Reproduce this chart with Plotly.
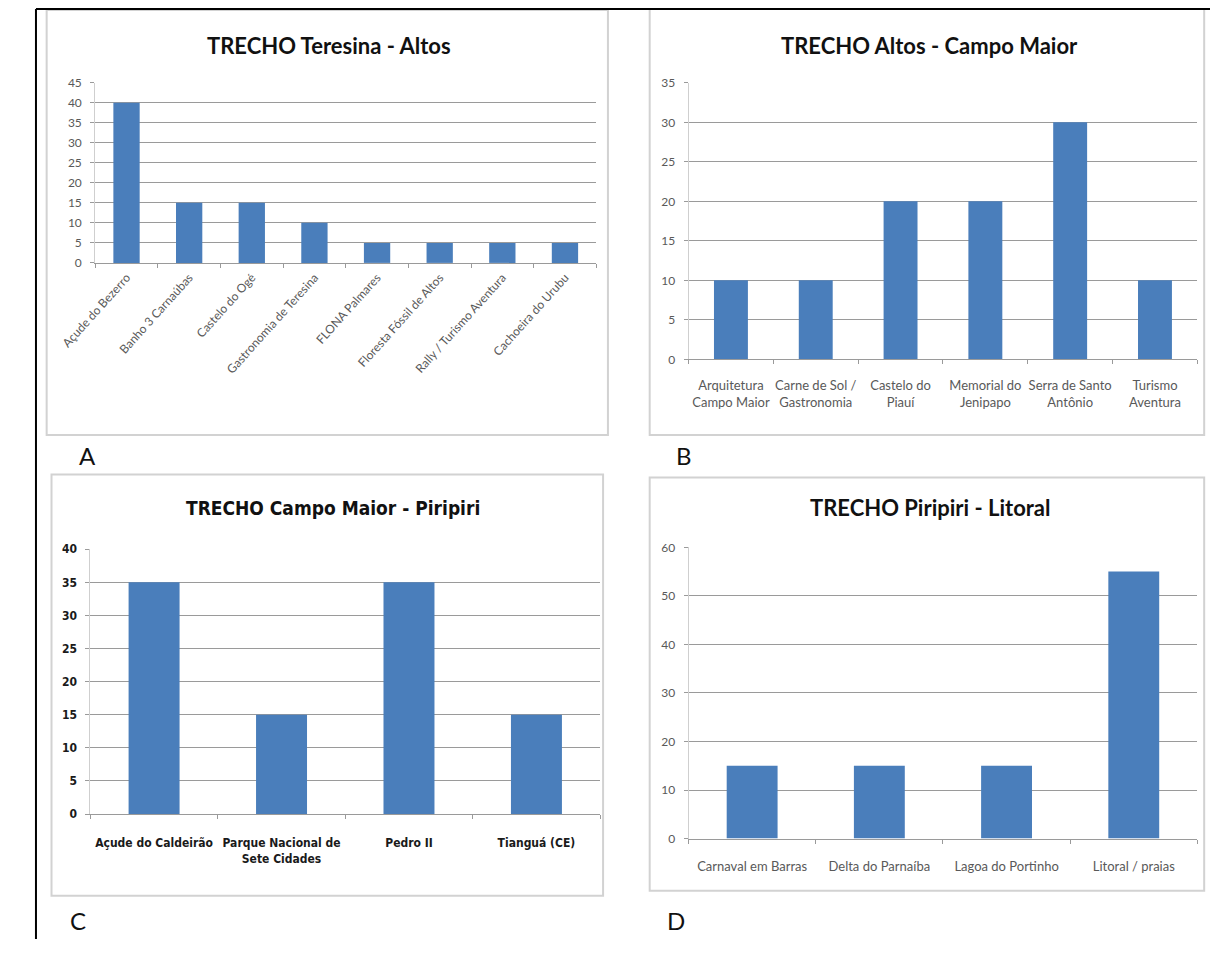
import plotly.graph_objects as go

# ---- data -------------------------------------------------------------
cat_a = ["Açude do Bezerro", "Banho 3 Carnaúbas", "Castelo do Ogé",
         "Gastronomia de Teresina", "FLONA Palmares", "Floresta Fóssil de Altos",
         "Rally / Turismo Aventura", "Cachoeira do Urubu"]
val_a = [40, 15, 15, 10, 5, 5, 5, 5]

cat_b = ["Arquitetura<br>Campo Maior", "Carne de Sol /<br>Gastronomia", "Castelo do<br>Piauí",
         "Memorial do<br>Jenipapo", "Serra de Santo<br>Antônio", "Turismo<br>Aventura"]
val_b = [10, 10, 20, 20, 30, 10]

cat_c = ["Açude do Caldeirão", "Parque Nacional de<br>Sete Cidades", "Pedro II", "Tianguá (CE)"]
val_c = [35, 15, 35, 15]

cat_d = ["Carnaval em Barras", "Delta do Parnaíba", "Lagoa do Portinho", "Litoral / praias"]
val_d = [15, 15, 15, 55]

titles = ["TRECHO Teresina - Altos", "TRECHO Altos - Campo Maior",
          "TRECHO Campo Maior - Piripiri", "TRECHO Piripiri - Litoral"]
letters = ["A", "B", "C", "D"]

# ---- page geometry (pixels on the page; the body keeps its 8px margin) --
PAGE_W, PAGE_H = 1218, 954
OFF = 8
W, H = PAGE_W - OFF, PAGE_H - OFF
BAR = "#4a7ebb"
GRID = "#9a9a9a"
LABEL = "#595959"
FONT = "Lato, 'Open Sans', sans-serif"
NARROW = "'Liberation Sans Narrow', 'DejaVu Sans Condensed', sans-serif"


def px_x(x):
    return (x - OFF) / W


def px_y(y):
    return 1 - (y - OFF) / H


panels = [
    # categories, values, plot box (x0, x1, ybottom, ytop), y max, y step, bar width
    dict(cats=cat_a, vals=val_a, box=(70, 586, 267, 84), ymax=45, dtick=5, width=0.42,
         angle=-48, standoff=2, tfont=dict(family=FONT, size=12, color=LABEL),
         yfont=dict(family=FONT, size=12, color=LABEL)),
    dict(cats=cat_b, vals=val_b, box=(681, 1205, 365, 84), ymax=35, dtick=5, width=0.4,
         angle=0, standoff=14, tfont=dict(family=FONT, size=13, color=LABEL),
         yfont=dict(family=FONT, size=12, color=LABEL)),
    dict(cats=cat_c, vals=val_c, box=(65, 590, 827, 558), ymax=40, dtick=5, width=0.4,
         angle=0, standoff=18, tfont=dict(family=NARROW, size=12, color="#1a1a1a", weight="bold"),
         yfont=dict(family=NARROW, size=12, color="#1a1a1a", weight="bold")),
    dict(cats=cat_d, vals=val_d, box=(681, 1205, 852, 556), ymax=60, dtick=10, width=0.4,
         angle=0, standoff=16, tfont=dict(family=FONT, size=13, color=LABEL),
         yfont=dict(family=FONT, size=12, color=LABEL)),
]

fig = go.Figure()
layout = {}
for i, p in enumerate(panels, start=1):
    sfx = "" if i == 1 else str(i)
    fig.add_trace(go.Bar(
        x=p["cats"], y=p["vals"], width=p["width"],
        marker=dict(color=BAR, line=dict(width=0)),
        xaxis="x" + sfx, yaxis="y" + sfx, showlegend=False,
    ))
    x0, x1, yb, yt = p["box"]
    layout["xaxis" + sfx] = dict(
        domain=[px_x(x0), px_x(x1)], anchor="y" + sfx, type="category",
        showgrid=False, showline=True, linecolor=GRID, linewidth=1,
        ticks="outside", ticklen=4, tickcolor=GRID, tickson="boundaries",
        tickangle=p["angle"], tickfont=p["tfont"], ticklabelstandoff=p["standoff"],
        fixedrange=True,
    )
    layout["yaxis" + sfx] = dict(
        domain=[px_y(yb), px_y(yt)], anchor="x" + sfx,
        range=[0, p["ymax"]], dtick=p["dtick"], tick0=0,
        showgrid=True, gridcolor=GRID, gridwidth=1,
        showline=True, linecolor="#cfcfcf", linewidth=1,
        ticks="outside", ticklen=4, tickcolor=GRID,
        ticklabelstandoff=6, tickfont=p["yfont"], zeroline=False, fixedrange=True,
    )

# chart frames and the outer rule of the page
frames = [(20, 10, 598, 442), (641, 9, 1212, 442), (25, 482, 593, 910), (641, 485, 1212, 905)]
shapes = []
for fx0, fy0, fx1, fy1 in frames:
    shapes.append(dict(type="rect", xref="paper", yref="paper",
                       x0=px_x(fx0), x1=px_x(fx1), y0=px_y(fy1), y1=px_y(fy0),
                       line=dict(color="#d2d2d2", width=2), layer="below"))
shapes.append(dict(type="line", xref="paper", yref="paper",
                   x0=px_x(9), x1=1, y0=px_y(9), y1=px_y(9),
                   line=dict(color="black", width=2)))
shapes.append(dict(type="line", xref="paper", yref="paper",
                   x0=px_x(9), x1=px_x(9), y0=0, y1=px_y(9),
                   line=dict(color="black", width=2)))

title_pos = [(311, 46), (929, 46), (315, 516), (930, 516)]
title_fonts = [
    dict(family=FONT, size=22, color="#111111", weight="bold"),
    dict(family=FONT, size=22, color="#111111", weight="bold"),
    dict(family=NARROW, size=19, color="#111111", weight="bold"),
    dict(family=FONT, size=22, color="#111111", weight="bold"),
]
letter_pos = [(62, 463), (676, 463), (52, 935), (668, 935)]

annotations = []
for t, (tx, ty), tf in zip(titles, title_pos, title_fonts):
    annotations.append(dict(text=t, x=px_x(tx), y=px_y(ty), xref="paper", yref="paper",
                            showarrow=False, xanchor="center", yanchor="middle", font=tf))
for l, (lx, ly) in zip(letters, letter_pos):
    annotations.append(dict(text=l, x=px_x(lx), y=px_y(ly), xref="paper", yref="paper",
                            showarrow=False, xanchor="center", yanchor="middle",
                            font=dict(family=FONT, size=24, color="#111111")))

fig.update_layout(
    width=W, height=H, margin=dict(l=0, r=0, t=0, b=0),
    paper_bgcolor="white", plot_bgcolor="white",
    shapes=shapes, annotations=annotations, bargap=0.6,
    **layout,
)

fig.write_html("out.html", config={"displayModeBar": False})
